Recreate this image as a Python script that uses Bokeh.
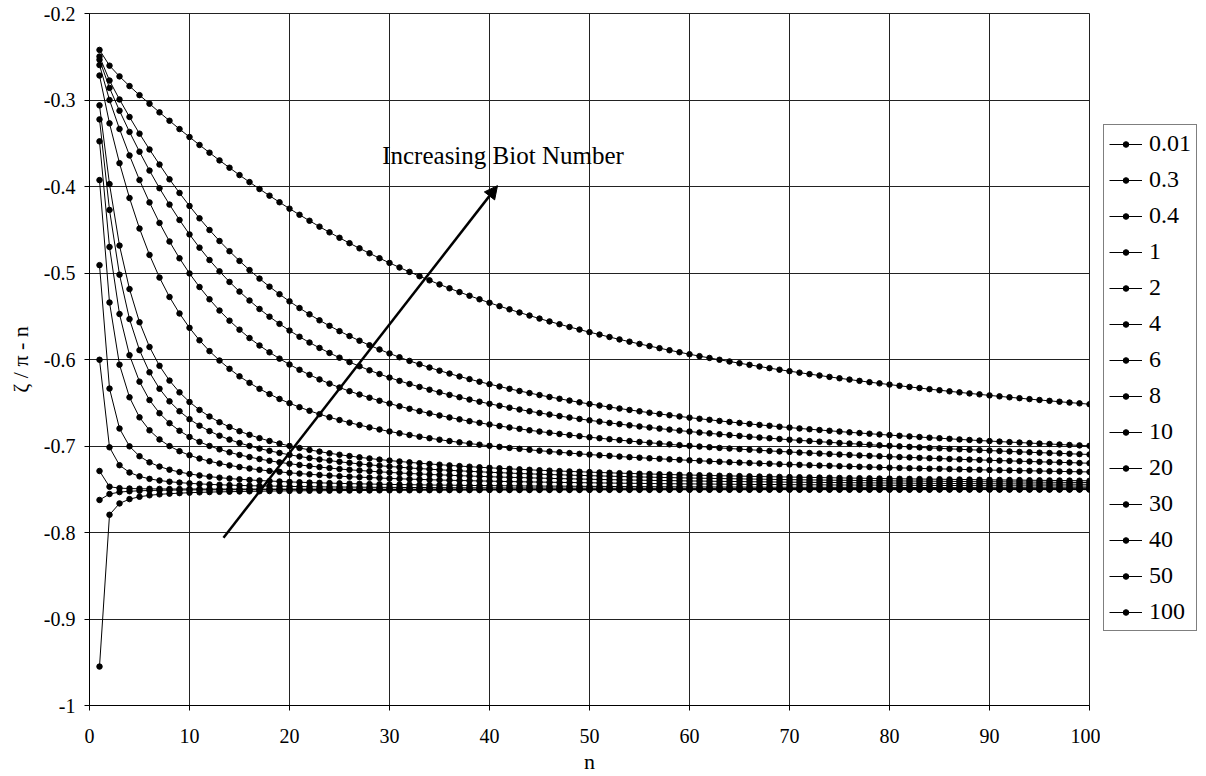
from bokeh.plotting import figure
from bokeh.layouts import row
from bokeh.models import (Legend, LegendItem, Arrow, NormalHead, Label, FixedTicker,
                          Range1d, CustomJSTickFormatter)
from bokeh.embed import file_html
from bokeh.resources import INLINE

# ---------------- data ----------------
n_values = list(range(1, 101))
biot_labels = ["0.01", "0.3", "0.4", "1", "2", "4", "6", "8", "10", "20", "30", "40", "50", "100"]
x_ticks = [0, 10, 20, 30, 40, 50, 60, 70, 80, 90, 100]
y_ticks = [-1.0, -0.9, -0.8, -0.7, -0.6, -0.5, -0.4, -0.3, -0.2]

y_bi_0_01 = [-0.9550, -0.7795, -0.7664, -0.7614, -0.7587, -0.7570, -0.7559, -0.7551, -0.7545, -0.7540,
             -0.7536, -0.7533, -0.7530, -0.7528, -0.7526, -0.7524, -0.7523, -0.7521, -0.7520, -0.7519,
             -0.7518, -0.7517, -0.7517, -0.7516, -0.7515, -0.7515, -0.7514, -0.7514, -0.7513, -0.7513,
             -0.7512, -0.7512, -0.7511, -0.7511, -0.7511, -0.7510, -0.7510, -0.7510, -0.7510, -0.7509,
             -0.7509, -0.7509, -0.7509, -0.7509, -0.7508, -0.7508, -0.7508, -0.7508, -0.7508, -0.7508,
             -0.7507, -0.7507, -0.7507, -0.7507, -0.7507, -0.7507, -0.7507, -0.7506, -0.7506, -0.7506,
             -0.7506, -0.7506, -0.7506, -0.7506, -0.7506, -0.7506, -0.7506, -0.7505, -0.7505, -0.7505,
             -0.7505, -0.7505, -0.7505, -0.7505, -0.7505, -0.7505, -0.7505, -0.7505, -0.7505, -0.7505,
             -0.7505, -0.7505, -0.7505, -0.7505, -0.7504, -0.7504, -0.7504, -0.7504, -0.7504, -0.7504,
             -0.7504, -0.7504, -0.7504, -0.7504, -0.7504, -0.7504, -0.7504, -0.7504, -0.7504, -0.7504]

y_bi_0_3 = [-0.7624, -0.7555, -0.7533, -0.7523, -0.7518, -0.7514, -0.7512, -0.7510, -0.7509, -0.7508,
            -0.7507, -0.7507, -0.7506, -0.7506, -0.7505, -0.7505, -0.7505, -0.7504, -0.7504, -0.7504,
            -0.7504, -0.7504, -0.7503, -0.7503, -0.7503, -0.7503, -0.7503, -0.7503, -0.7503, -0.7503,
            -0.7503, -0.7503, -0.7503, -0.7502, -0.7502, -0.7502, -0.7502, -0.7502, -0.7502, -0.7502,
            -0.7502, -0.7502, -0.7502, -0.7502, -0.7502, -0.7502, -0.7502, -0.7502, -0.7502, -0.7502,
            -0.7502, -0.7502, -0.7502, -0.7502, -0.7502, -0.7502, -0.7502, -0.7502, -0.7502, -0.7502,
            -0.7501, -0.7501, -0.7501, -0.7501, -0.7501, -0.7501, -0.7501, -0.7501, -0.7501, -0.7501,
            -0.7501, -0.7501, -0.7501, -0.7501, -0.7501, -0.7501, -0.7501, -0.7501, -0.7501, -0.7501,
            -0.7501, -0.7501, -0.7501, -0.7501, -0.7501, -0.7501, -0.7501, -0.7501, -0.7501, -0.7501,
            -0.7501, -0.7501, -0.7501, -0.7501, -0.7501, -0.7501, -0.7501, -0.7501, -0.7501, -0.7501]

y_bi_0_4 = [-0.7289, -0.7471, -0.7487, -0.7492, -0.7494, -0.7495, -0.7496, -0.7497, -0.7497, -0.7497,
            -0.7497, -0.7498, -0.7498, -0.7498, -0.7498, -0.7498, -0.7498, -0.7498, -0.7498, -0.7498,
            -0.7498, -0.7498, -0.7498, -0.7498, -0.7498, -0.7499, -0.7499, -0.7499, -0.7499, -0.7499,
            -0.7499, -0.7499, -0.7499, -0.7499, -0.7499, -0.7499, -0.7499, -0.7499, -0.7499, -0.7499,
            -0.7499, -0.7499, -0.7499, -0.7499, -0.7499, -0.7499, -0.7499, -0.7499, -0.7499, -0.7499,
            -0.7499, -0.7499, -0.7499, -0.7499, -0.7499, -0.7499, -0.7499, -0.7499, -0.7499, -0.7499,
            -0.7499, -0.7499, -0.7499, -0.7499, -0.7499, -0.7499, -0.7499, -0.7499, -0.7499, -0.7499,
            -0.7499, -0.7499, -0.7499, -0.7499, -0.7499, -0.7499, -0.7499, -0.7499, -0.7499, -0.7499,
            -0.7499, -0.7499, -0.7499, -0.7499, -0.7499, -0.7499, -0.7499, -0.7499, -0.7499, -0.7499,
            -0.7499, -0.7499, -0.7499, -0.7499, -0.7499, -0.7499, -0.7499, -0.7499, -0.7499, -0.7499]

y_bi_1 = [-0.6003, -0.7015, -0.7222, -0.7306, -0.7351, -0.7380, -0.7399, -0.7413, -0.7423, -0.7432,
          -0.7438, -0.7444, -0.7448, -0.7452, -0.7456, -0.7459, -0.7461, -0.7463, -0.7465, -0.7467,
          -0.7469, -0.7470, -0.7472, -0.7473, -0.7474, -0.7475, -0.7476, -0.7477, -0.7478, -0.7478,
          -0.7479, -0.7480, -0.7480, -0.7481, -0.7482, -0.7482, -0.7483, -0.7483, -0.7483, -0.7484,
          -0.7484, -0.7485, -0.7485, -0.7485, -0.7486, -0.7486, -0.7486, -0.7487, -0.7487, -0.7487,
          -0.7487, -0.7488, -0.7488, -0.7488, -0.7488, -0.7489, -0.7489, -0.7489, -0.7489, -0.7489,
          -0.7490, -0.7490, -0.7490, -0.7490, -0.7490, -0.7490, -0.7491, -0.7491, -0.7491, -0.7491,
          -0.7491, -0.7491, -0.7491, -0.7491, -0.7491, -0.7491, -0.7491, -0.7492, -0.7492, -0.7492,
          -0.7492, -0.7492, -0.7492, -0.7492, -0.7492, -0.7492, -0.7492, -0.7492, -0.7493, -0.7493,
          -0.7493, -0.7493, -0.7493, -0.7493, -0.7493, -0.7493, -0.7493, -0.7494, -0.7494, -0.7494]

y_bi_2 = [-0.4909, -0.6336, -0.6798, -0.7004, -0.7118, -0.7189, -0.7238, -0.7274, -0.7301, -0.7323,
          -0.7340, -0.7354, -0.7366, -0.7376, -0.7385, -0.7392, -0.7399, -0.7405, -0.7410, -0.7415,
          -0.7419, -0.7423, -0.7426, -0.7429, -0.7432, -0.7435, -0.7437, -0.7440, -0.7442, -0.7444,
          -0.7446, -0.7447, -0.7449, -0.7451, -0.7452, -0.7453, -0.7455, -0.7456, -0.7457, -0.7458,
          -0.7459, -0.7460, -0.7461, -0.7462, -0.7463, -0.7464, -0.7464, -0.7465, -0.7466, -0.7467,
          -0.7467, -0.7468, -0.7469, -0.7469, -0.7470, -0.7470, -0.7471, -0.7471, -0.7472, -0.7472,
          -0.7473, -0.7473, -0.7474, -0.7474, -0.7474, -0.7475, -0.7475, -0.7476, -0.7476, -0.7476,
          -0.7477, -0.7477, -0.7477, -0.7478, -0.7478, -0.7478, -0.7478, -0.7479, -0.7479, -0.7479,
          -0.7479, -0.7480, -0.7480, -0.7480, -0.7480, -0.7481, -0.7481, -0.7481, -0.7481, -0.7482,
          -0.7482, -0.7482, -0.7482, -0.7482, -0.7483, -0.7483, -0.7483, -0.7483, -0.7483, -0.7483]

y_bi_4 = [-0.3926, -0.5341, -0.6060, -0.6437, -0.6669, -0.6819, -0.6924, -0.7001, -0.7060, -0.7107,
          -0.7145, -0.7176, -0.7202, -0.7224, -0.7243, -0.7260, -0.7275, -0.7288, -0.7299, -0.7310,
          -0.7319, -0.7327, -0.7335, -0.7342, -0.7349, -0.7355, -0.7360, -0.7365, -0.7370, -0.7375,
          -0.7379, -0.7383, -0.7386, -0.7390, -0.7393, -0.7396, -0.7399, -0.7401, -0.7404, -0.7406,
          -0.7409, -0.7411, -0.7413, -0.7415, -0.7417, -0.7419, -0.7421, -0.7422, -0.7424, -0.7425,
          -0.7427, -0.7428, -0.7430, -0.7431, -0.7432, -0.7434, -0.7435, -0.7436, -0.7437, -0.7438,
          -0.7439, -0.7440, -0.7441, -0.7442, -0.7443, -0.7444, -0.7445, -0.7445, -0.7446, -0.7447,
          -0.7448, -0.7448, -0.7449, -0.7450, -0.7451, -0.7451, -0.7452, -0.7452, -0.7453, -0.7454,
          -0.7454, -0.7455, -0.7455, -0.7456, -0.7456, -0.7457, -0.7457, -0.7458, -0.7458, -0.7459,
          -0.7459, -0.7460, -0.7460, -0.7461, -0.7461, -0.7461, -0.7462, -0.7462, -0.7463, -0.7463]

y_bi_6 = [-0.3478, -0.4699, -0.5474, -0.5950, -0.6256, -0.6469, -0.6621, -0.6736, -0.6824, -0.6895,
          -0.6952, -0.6999, -0.7039, -0.7073, -0.7103, -0.7128, -0.7151, -0.7171, -0.7189, -0.7205,
          -0.7219, -0.7232, -0.7244, -0.7255, -0.7266, -0.7275, -0.7283, -0.7291, -0.7299, -0.7305,
          -0.7312, -0.7318, -0.7323, -0.7329, -0.7334, -0.7338, -0.7343, -0.7347, -0.7351, -0.7355,
          -0.7359, -0.7362, -0.7365, -0.7368, -0.7371, -0.7374, -0.7377, -0.7379, -0.7382, -0.7384,
          -0.7387, -0.7389, -0.7391, -0.7393, -0.7395, -0.7397, -0.7399, -0.7400, -0.7402, -0.7404,
          -0.7405, -0.7407, -0.7409, -0.7410, -0.7411, -0.7413, -0.7414, -0.7415, -0.7417, -0.7418,
          -0.7419, -0.7420, -0.7421, -0.7422, -0.7423, -0.7424, -0.7425, -0.7426, -0.7427, -0.7428,
          -0.7429, -0.7430, -0.7431, -0.7432, -0.7432, -0.7433, -0.7434, -0.7435, -0.7435, -0.7436,
          -0.7437, -0.7438, -0.7438, -0.7439, -0.7440, -0.7440, -0.7441, -0.7441, -0.7442, -0.7443]

y_bi_8 = [-0.3224, -0.4271, -0.5020, -0.5533, -0.5892, -0.6148, -0.6338, -0.6484, -0.6598, -0.6690,
          -0.6765, -0.6828, -0.6881, -0.6926, -0.6965, -0.6999, -0.7030, -0.7056, -0.7080, -0.7102,
          -0.7121, -0.7139, -0.7155, -0.7169, -0.7183, -0.7195, -0.7207, -0.7218, -0.7228, -0.7237,
          -0.7245, -0.7254, -0.7261, -0.7268, -0.7275, -0.7281, -0.7287, -0.7293, -0.7298, -0.7304,
          -0.7308, -0.7313, -0.7318, -0.7322, -0.7326, -0.7330, -0.7333, -0.7337, -0.7340, -0.7343,
          -0.7346, -0.7349, -0.7352, -0.7355, -0.7358, -0.7360, -0.7363, -0.7365, -0.7368, -0.7370,
          -0.7372, -0.7374, -0.7376, -0.7378, -0.7380, -0.7382, -0.7383, -0.7385, -0.7387, -0.7389,
          -0.7390, -0.7392, -0.7393, -0.7395, -0.7396, -0.7397, -0.7399, -0.7400, -0.7401, -0.7403,
          -0.7404, -0.7405, -0.7406, -0.7407, -0.7408, -0.7409, -0.7410, -0.7412, -0.7413, -0.7413,
          -0.7414, -0.7415, -0.7416, -0.7417, -0.7418, -0.7419, -0.7420, -0.7421, -0.7421, -0.7422]

y_bi_10 = [-0.3062, -0.3972, -0.4683, -0.5186, -0.5569, -0.5855, -0.6073, -0.6244, -0.6380, -0.6491,
           -0.6583, -0.6659, -0.6725, -0.6780, -0.6829, -0.6871, -0.6909, -0.6942, -0.6972, -0.6999,
           -0.7023, -0.7045, -0.7065, -0.7084, -0.7101, -0.7116, -0.7131, -0.7144, -0.7157, -0.7168,
           -0.7179, -0.7189, -0.7199, -0.7208, -0.7216, -0.7224, -0.7232, -0.7239, -0.7246, -0.7252,
           -0.7258, -0.7264, -0.7270, -0.7275, -0.7280, -0.7285, -0.7290, -0.7294, -0.7298, -0.7302,
           -0.7306, -0.7310, -0.7314, -0.7317, -0.7321, -0.7324, -0.7327, -0.7330, -0.7333, -0.7336,
           -0.7338, -0.7341, -0.7344, -0.7346, -0.7348, -0.7351, -0.7353, -0.7355, -0.7357, -0.7359,
           -0.7361, -0.7363, -0.7365, -0.7367, -0.7369, -0.7371, -0.7372, -0.7374, -0.7376, -0.7377,
           -0.7379, -0.7380, -0.7382, -0.7383, -0.7384, -0.7386, -0.7387, -0.7388, -0.7390, -0.7391,
           -0.7392, -0.7393, -0.7394, -0.7396, -0.7397, -0.7398, -0.7399, -0.7400, -0.7401, -0.7402]

y_bi_20 = [-0.2717, -0.3270, -0.3730, -0.4133, -0.4486, -0.4791, -0.5053, -0.5277, -0.5468, -0.5634,
           -0.5778, -0.5903, -0.6012, -0.6108, -0.6195, -0.6270, -0.6339, -0.6400, -0.6456, -0.6505,
           -0.6551, -0.6593, -0.6632, -0.6668, -0.6700, -0.6730, -0.6758, -0.6785, -0.6809, -0.6832,
           -0.6853, -0.6873, -0.6892, -0.6910, -0.6927, -0.6943, -0.6958, -0.6972, -0.6985, -0.6998,
           -0.7010, -0.7022, -0.7033, -0.7044, -0.7054, -0.7064, -0.7073, -0.7082, -0.7091, -0.7099,
           -0.7107, -0.7114, -0.7122, -0.7129, -0.7135, -0.7142, -0.7148, -0.7154, -0.7160, -0.7166,
           -0.7171, -0.7177, -0.7182, -0.7187, -0.7192, -0.7196, -0.7201, -0.7205, -0.7210, -0.7214,
           -0.7218, -0.7222, -0.7226, -0.7229, -0.7233, -0.7236, -0.7240, -0.7243, -0.7247, -0.7250,
           -0.7253, -0.7256, -0.7259, -0.7262, -0.7264, -0.7267, -0.7270, -0.7273, -0.7275, -0.7278,
           -0.7280, -0.7282, -0.7285, -0.7287, -0.7289, -0.7292, -0.7294, -0.7296, -0.7298, -0.7300]

y_bi_30 = [-0.2596, -0.3000, -0.3335, -0.3641, -0.3925, -0.4184, -0.4421, -0.4636, -0.4830, -0.5005,
           -0.5162, -0.5304, -0.5434, -0.5551, -0.5655, -0.5752, -0.5838, -0.5917, -0.5990, -0.6058,
           -0.6119, -0.6177, -0.6230, -0.6279, -0.6324, -0.6366, -0.6405, -0.6442, -0.6477, -0.6509,
           -0.6541, -0.6570, -0.6597, -0.6623, -0.6647, -0.6670, -0.6692, -0.6713, -0.6732, -0.6751,
           -0.6769, -0.6786, -0.6802, -0.6818, -0.6833, -0.6847, -0.6861, -0.6874, -0.6886, -0.6899,
           -0.6910, -0.6921, -0.6932, -0.6943, -0.6953, -0.6962, -0.6972, -0.6981, -0.6990, -0.6998,
           -0.7006, -0.7014, -0.7022, -0.7029, -0.7036, -0.7043, -0.7050, -0.7057, -0.7063, -0.7069,
           -0.7076, -0.7081, -0.7087, -0.7093, -0.7098, -0.7103, -0.7109, -0.7114, -0.7118, -0.7123,
           -0.7128, -0.7132, -0.7137, -0.7141, -0.7145, -0.7150, -0.7154, -0.7157, -0.7161, -0.7165,
           -0.7169, -0.7172, -0.7176, -0.7179, -0.7183, -0.7186, -0.7189, -0.7192, -0.7196, -0.7199]

y_bi_40 = [-0.2534, -0.2860, -0.3124, -0.3369, -0.3598, -0.3816, -0.4020, -0.4209, -0.4387, -0.4554,
           -0.4707, -0.4850, -0.4981, -0.5103, -0.5215, -0.5318, -0.5416, -0.5505, -0.5588, -0.5665,
           -0.5737, -0.5804, -0.5866, -0.5924, -0.5979, -0.6030, -0.6078, -0.6125, -0.6168, -0.6209,
           -0.6247, -0.6283, -0.6317, -0.6349, -0.6380, -0.6409, -0.6436, -0.6463, -0.6488, -0.6512,
           -0.6535, -0.6557, -0.6578, -0.6598, -0.6618, -0.6636, -0.6654, -0.6671, -0.6687, -0.6703,
           -0.6718, -0.6733, -0.6747, -0.6761, -0.6774, -0.6786, -0.6799, -0.6810, -0.6822, -0.6833,
           -0.6844, -0.6854, -0.6864, -0.6874, -0.6883, -0.6893, -0.6902, -0.6910, -0.6919, -0.6927,
           -0.6935, -0.6943, -0.6950, -0.6958, -0.6965, -0.6972, -0.6978, -0.6985, -0.6992, -0.6998,
           -0.7004, -0.7010, -0.7016, -0.7022, -0.7027, -0.7033, -0.7038, -0.7043, -0.7048, -0.7053,
           -0.7058, -0.7063, -0.7068, -0.7072, -0.7077, -0.7081, -0.7085, -0.7090, -0.7094, -0.7098]

y_bi_50 = [-0.2497, -0.2775, -0.2994, -0.3196, -0.3389, -0.3572, -0.3746, -0.3917, -0.4074, -0.4225,
           -0.4368, -0.4503, -0.4630, -0.4748, -0.4860, -0.4966, -0.5065, -0.5158, -0.5245, -0.5328,
           -0.5405, -0.5478, -0.5547, -0.5611, -0.5672, -0.5729, -0.5783, -0.5835, -0.5884, -0.5930,
           -0.5974, -0.6016, -0.6055, -0.6093, -0.6129, -0.6163, -0.6196, -0.6227, -0.6257, -0.6285,
           -0.6312, -0.6339, -0.6364, -0.6388, -0.6411, -0.6433, -0.6454, -0.6475, -0.6495, -0.6514,
           -0.6532, -0.6550, -0.6567, -0.6583, -0.6599, -0.6615, -0.6630, -0.6644, -0.6658, -0.6672,
           -0.6685, -0.6697, -0.6710, -0.6722, -0.6733, -0.6745, -0.6756, -0.6766, -0.6777, -0.6787,
           -0.6797, -0.6806, -0.6815, -0.6824, -0.6833, -0.6842, -0.6850, -0.6858, -0.6866, -0.6874,
           -0.6882, -0.6889, -0.6896, -0.6904, -0.6910, -0.6917, -0.6924, -0.6930, -0.6937, -0.6943,
           -0.6949, -0.6955, -0.6960, -0.6966, -0.6972, -0.6977, -0.6983, -0.6988, -0.6993, -0.6998]

y_bi_100 = [-0.2421, -0.2603, -0.2727, -0.2839, -0.2944, -0.3043, -0.3143, -0.3240, -0.3336, -0.3428,
            -0.3520, -0.3609, -0.3698, -0.3783, -0.3868, -0.3949, -0.4029, -0.4106, -0.4182, -0.4256,
            -0.4327, -0.4396, -0.4464, -0.4530, -0.4593, -0.4655, -0.4715, -0.4772, -0.4829, -0.4883,
            -0.4936, -0.4987, -0.5037, -0.5085, -0.5132, -0.5177, -0.5221, -0.5263, -0.5304, -0.5344,
            -0.5383, -0.5420, -0.5457, -0.5492, -0.5527, -0.5560, -0.5592, -0.5624, -0.5654, -0.5684,
            -0.5712, -0.5740, -0.5768, -0.5794, -0.5820, -0.5845, -0.5869, -0.5893, -0.5916, -0.5939,
            -0.5961, -0.5982, -0.6003, -0.6023, -0.6043, -0.6062, -0.6081, -0.6100, -0.6118, -0.6135,
            -0.6152, -0.6169, -0.6185, -0.6201, -0.6217, -0.6232, -0.6247, -0.6262, -0.6276, -0.6290,
            -0.6304, -0.6317, -0.6330, -0.6343, -0.6355, -0.6368, -0.6380, -0.6392, -0.6403, -0.6415,
            -0.6426, -0.6437, -0.6447, -0.6458, -0.6468, -0.6478, -0.6488, -0.6498, -0.6507, -0.6517]

series_values = [y_bi_0_01, y_bi_0_3, y_bi_0_4, y_bi_1, y_bi_2, y_bi_4, y_bi_6, y_bi_8,
                 y_bi_10, y_bi_20, y_bi_30, y_bi_40, y_bi_50, y_bi_100]

annotation_text = "Increasing Biot Number"
x_title = "n"
y_title = "\u03b6 / \u03c0 - n"

# ---------------- main figure ----------------
FONT = "Liberation Serif"
p = figure(width=1100, height=776, output_backend="svg", toolbar_location=None,
           x_range=Range1d(0, 100), y_range=Range1d(-1, -0.2),
           min_border_left=89, min_border_right=11, min_border_top=13, min_border_bottom=68,
           background_fill_color="white", border_fill_color="white")
p.outline_line_color = "#222222"
p.outline_line_width = 1

for ax in (p.xaxis[0], p.yaxis[0]):
    ax.axis_line_color = "black"
    ax.axis_line_width = 1
    ax.major_tick_line_color = "black"
    ax.major_tick_out = 5
    ax.major_tick_in = 0
    ax.minor_tick_line_color = None
    ax.major_label_text_font = FONT
    ax.major_label_text_font_size = "20px"
    ax.major_label_text_color = "black"
    ax.axis_label_text_font = FONT
    ax.axis_label_text_font_size = "22px"
    ax.axis_label_text_font_style = "normal"
    ax.axis_label_text_color = "black"
    ax.formatter = CustomJSTickFormatter(code="return (Math.round(tick*10)/10).toString();")

p.xaxis[0].ticker = FixedTicker(ticks=x_ticks)
p.yaxis[0].ticker = FixedTicker(ticks=y_ticks)
p.xaxis[0].major_label_standoff = 18
p.yaxis[0].major_label_standoff = 9
p.xaxis[0].axis_label = x_title
p.yaxis[0].axis_label = y_title
p.xaxis[0].axis_label_standoff = 3
p.yaxis[0].axis_label_standoff = 8

p.xgrid.ticker = FixedTicker(ticks=x_ticks)
p.ygrid.ticker = FixedTicker(ticks=y_ticks)
p.xgrid.grid_line_color = "#222222"
p.ygrid.grid_line_color = "#222222"
p.xgrid.grid_line_width = 1
p.ygrid.grid_line_width = 1

for vals in series_values:
    p.line(n_values, vals, line_color="black", line_width=1)
    p.scatter(n_values, vals, marker="circle", size=5.5,
              fill_color="black", line_color="black")

arrow = Arrow(end=NormalHead(size=13, fill_color="black", line_color="black"),
              x_start=13.4, y_start=-0.806, x_end=40.8, y_end=-0.399,
              line_color="black", line_width=2.5)
p.add_layout(arrow)

label = Label(x=41.35, y=-0.3644, text=annotation_text, text_align="center",
              text_baseline="middle", text_font=FONT, text_font_size="25px",
              text_color="black")
p.add_layout(label)

# ---------------- legend panel ----------------
# The same series are drawn here with identical styles, but the panel's ranges
# lie outside the data, so only the legend swatches are visible.
pl = figure(width=106, height=776, output_backend="svg", toolbar_location=None,
            x_range=Range1d(200, 300), y_range=Range1d(0, 1),
            x_axis_location=None, y_axis_location=None,
            min_border_left=0, min_border_right=0, min_border_top=0, min_border_bottom=0,
            background_fill_color="white", border_fill_color="white")
pl.outline_line_color = None
pl.xgrid.visible = False
pl.ygrid.visible = False

items = []
for lab, vals in zip(biot_labels, series_values):
    lr = pl.line(n_values, vals, line_color="black", line_width=1)
    sr = pl.scatter(n_values, vals, marker="circle", size=5.5,
                    fill_color="black", line_color="black")
    items.append(LegendItem(label=lab, renderers=[lr, sr]))

legend = Legend(items=items, location=(3, 74), orientation="vertical",
                label_text_font=FONT, label_text_font_size="24px", label_text_color="black",
                glyph_width=33, glyph_height=14, label_height=24, label_standoff=7,
                spacing=9, padding=5, margin=0,
                border_line_color="black", border_line_width=1,
                background_fill_color="white", background_fill_alpha=1)
pl.add_layout(legend, "center")

layout = row(p, pl, spacing=0)
open("out.html", "w").write(file_html(layout, INLINE))
